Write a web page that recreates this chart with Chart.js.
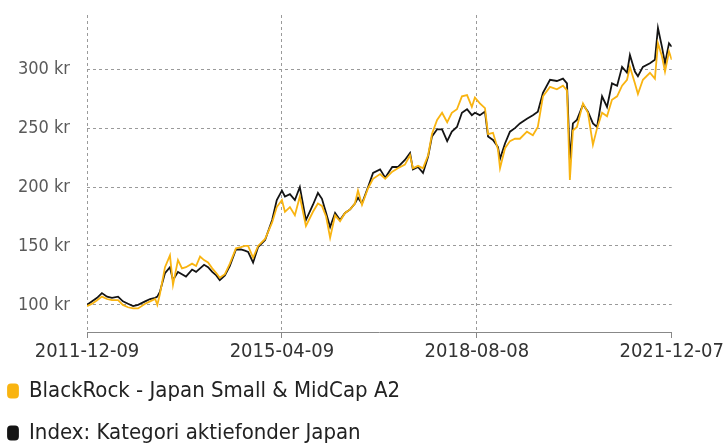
<!DOCTYPE html>
<html>
<head>
<meta charset="utf-8">
<script src="https://cdn.jsdelivr.net/npm/chart.js@4/dist/chart.umd.min.js"></script>
<style>
  html, body { margin: 0; padding: 0; background: #fff; }
  #wrap { width: 726px; height: 446px; }
</style>
</head>
<body>
<div id="wrap"><canvas id="chart" width="726" height="446"></canvas></div>
<script>
// Sample dates (roughly monthly with extra points at spikes)
const dates = [
  "2011-12-09","2012-01-10","2012-02-10","2012-03-11","2012-04-12","2012-05-13","2012-06-20","2012-07-20",
  "2012-08-21","2012-09-22","2012-10-23","2012-12-06","2013-01-06","2013-02-07","2013-02-20","2013-03-08",
  "2013-04-09","2013-05-10","2013-05-29","2013-06-29","2013-07-24","2013-08-18","2013-09-25","2013-10-20",
  "2013-11-14","2013-12-09","2014-01-03","2014-01-29","2014-02-23","2014-03-17","2014-04-18","2014-05-19",
  "2014-06-26","2014-07-27","2014-08-21","2014-09-10","2014-10-11","2014-11-11","2014-12-25","2015-02-07",
  "2015-03-08","2015-04-09","2015-04-28","2015-05-29","2015-06-29","2015-07-30","2015-09-06","2015-10-20",
  "2015-11-20","2015-12-15","2016-01-10","2016-02-04","2016-03-06","2016-04-06","2016-05-07","2016-06-08",
  "2016-07-08","2016-07-27","2016-08-21","2016-09-28","2016-10-29","2016-12-12","2017-01-13","2017-02-26",
  "2017-04-02","2017-05-16","2017-06-17","2017-07-05","2017-08-06","2017-09-06","2017-10-08","2017-11-01",
  "2017-12-03","2018-01-03","2018-02-04","2018-03-05","2018-04-06","2018-05-07","2018-06-08","2018-07-08",
  "2018-07-27","2018-08-27","2018-09-28","2018-10-17","2018-11-17","2018-12-18","2018-12-31","2019-01-31",
  "2019-03-03","2019-04-03","2019-05-04","2019-06-17","2019-07-24","2019-08-24","2019-09-25","2019-11-08",
  "2019-12-21","2020-01-28","2020-02-22","2020-03-11","2020-03-30","2020-04-24","2020-06-01","2020-07-02",
  "2020-08-02","2020-08-28","2020-09-28","2020-10-29","2020-11-29","2020-12-31","2021-01-31","2021-03-03",
  "2021-03-21","2021-04-21","2021-05-10","2021-06-10","2021-07-24","2021-08-24","2021-09-12","2021-10-07",
  "2021-10-26","2021-11-20","2021-12-07"
];

// BlackRock - Japan Small & MidCap A2 (kr)
const fund = [
  99,101,104,107,105,104,104,100, 98,97,97,101,103,105,100,109,
  132,142,117,138,131,132,135,133, 141,138,136,131,127,123,126,135,
  148,149,150,150,140,150,156,170, 183,189,179,183,176,192,167,179,
  186,184,175,157,176,171,178,181, 186,197,185,199,207,211,207,213,
  216,219,227,216,218,216,227,245, 257,263,255,263,266,277,278,268,
  276,271,267,245,246,232,216,233, 239,241,241,247,244,251,277,285,
  283,286,282,206,248,251,271,263, 236,250,263,260,274,277,286,291,
  302,288,279,291,297,292,322,311, 298,315,308
];

// Index: Kategori aktiefonder Japan (kr)
const index = [
  100,103,106,110,107,106,107,103, 101,99,100,103,105,106,107,111,
  127,132,121,128,126,124,130,128, 131,134,132,128,125,121,125,133,
  147,147,146,145,136,149,155,172, 189,197,192,194,189,200,172,185,
  195,190,178,166,178,172,178,181, 186,191,186,200,212,215,208,217,
  217,223,229,215,217,212,226,243, 249,249,239,247,251,263,266,261,
  263,261,264,243,240,234,224,237, 247,250,254,258,261,264,280,291,
  290,292,288,223,254,257,270,264, 254,251,277,268,288,286,302,297,
  312,298,294,302,305,308,335,319, 305,322,319
];

const tickDates = ["2011-12-09", "2015-04-09", "2018-08-08", "2021-12-07"];
const yTicks = [100, 150, 200, 250, 300];

const seriesNames = ["BlackRock - Japan Small & MidCap A2", "Index: Kategori aktiefonder Japan"];
const seriesColors = ["#f9b411", "#141414"];

const FONT = "'Liberation Sans Narrow', 'DejaVu Sans Condensed', 'Roboto', sans-serif";

function toTime(d) {
  return Date.parse(d + "T00:00:00Z");
}

function formatDate(t) {
  return new Date(t).toISOString().slice(0, 10);
}

function points(values) {
  return values.map((v, i) => ({ x: toTime(dates[i]), y: v }));
}

const ctx = document.getElementById("chart");

new Chart(ctx, {
  type: "line",
  data: {
    datasets: [
      {
        label: seriesNames[0],
        data: points(fund),
        borderColor: seriesColors[0],
        backgroundColor: seriesColors[0],
        borderWidth: 1.8,
        pointRadius: 0,
        tension: 0,
      },
      {
        label: seriesNames[1],
        data: points(index),
        borderColor: seriesColors[1],
        backgroundColor: seriesColors[1],
        borderWidth: 1.8,
        pointRadius: 0,
        tension: 0,
      },
    ],
  },
  options: {
    responsive: false,
    animation: false,
    layout: { padding: { top: 15, left: -12, right: 0, bottom: -8 } },
    plugins: {
      tooltip: { enabled: false },
      legend: {
        position: "bottom",
        align: "start",
        labels: {
          boxWidth: 10,
          boxHeight: 13,
          useBorderRadius: true,
          borderRadius: 3,
          padding: 20,
          color: "#222",
          font: { family: FONT, size: 22 },
        },
      },
    },
    scales: {
      x: {
        type: "linear",
        min: toTime(tickDates[0]),
        max: toTime(tickDates[tickDates.length - 1]),
        afterBuildTicks: (scale) => {
          scale.ticks = tickDates.map((d) => ({ value: toTime(d) }));
        },
        afterFit: (scale) => {
          scale.height = 28;
        },
        grid: {
          color: (c) => (c.index === tickDates.length - 1 ? "rgba(0,0,0,0)" : "#9a9a9a"),
          tickColor: "#888",
          tickLength: 6,
        },
        border: { display: true, color: "#888", width: 1, dash: [3, 3] },
        ticks: {
          autoSkip: false,
          maxRotation: 0,
          padding: 2,
          color: "#333",
          font: { family: FONT, size: 20 },
          callback: (v) => formatDate(v),
        },
      },
      y: {
        min: 77,
        max: 346,
        afterBuildTicks: (scale) => {
          scale.ticks = yTicks.map((v) => ({ value: v }));
        },
        afterFit: (scale) => {
          scale.width = 99;
          // keep the label gap from pushing the plot area down
          scale.paddingTop = 0;
          scale.paddingBottom = 0;
        },
        grid: { color: "#9a9a9a", drawTicks: false },
        border: { display: false, dash: [3, 3] },
        ticks: {
          padding: 17,
          color: "#5a5a5a",
          font: { family: FONT, size: 18 },
          callback: (v) => v + " kr",
        },
      },
    },
  },
});
</script>
</body>
</html>
